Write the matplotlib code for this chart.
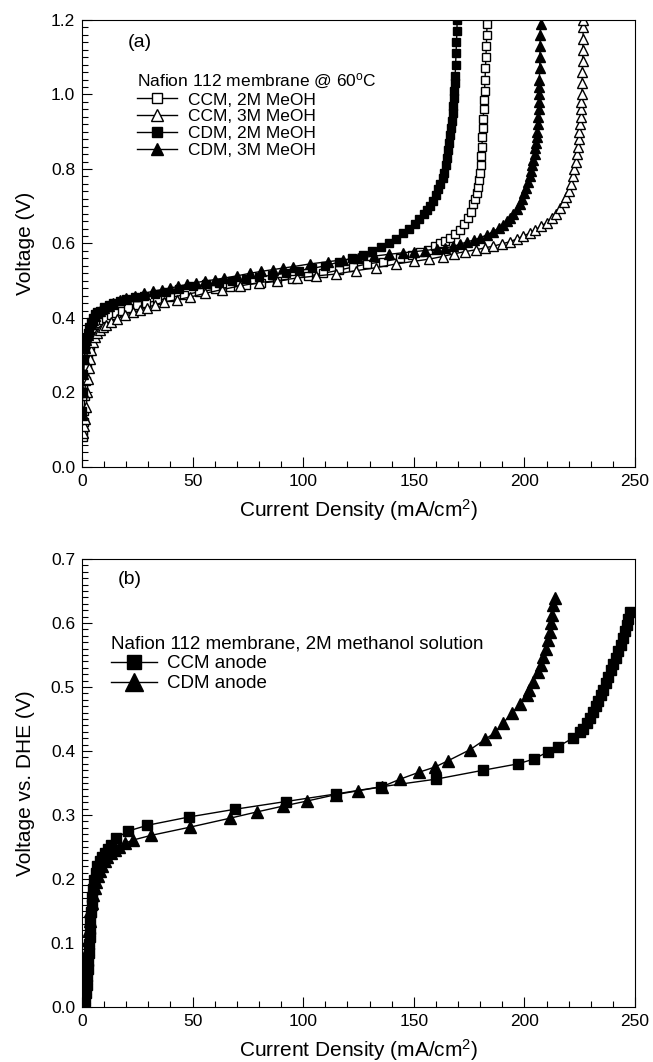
import matplotlib
matplotlib.use("Agg")
import matplotlib.pyplot as plt
from matplotlib.ticker import MultipleLocator

plt.rcParams['font.family'] = ['Liberation Sans', 'DejaVu Sans']
plt.rcParams['mathtext.fontset'] = 'custom'
plt.rcParams['mathtext.rm'] = 'Liberation Sans'
plt.rcParams['mathtext.it'] = 'Liberation Sans:italic'

# ---- panel (a): cell polarization, Nafion 112 @ 60C ----
ccm2_i = [0.3, 0.5, 0.7, 0.9, 1.2, 1.6, 2.1, 2.7, 3.4, 4.2, 5, 6, 7, 8, 9.5, 11, 13, 15.5, 18, 21,
          25, 29, 34, 40, 46, 53, 60, 67, 74, 81, 88, 95, 102, 109, 116, 122.6, 129, 136, 143.8, 149,
          153, 156.6, 159.5, 161.8, 164.2, 166.4, 168.8, 170.9, 172.8, 174.6, 175.9, 176.9, 177.8, 178.5,
          179.2, 179.6, 180, 180.3, 180.6, 180.8, 181, 181.2, 181.4, 181.6, 181.8, 182, 182.2, 182.4,
          182.6, 182.8, 183, 183.1]
ccm2_v = [0.08, 0.10, 0.12, 0.15, 0.19, 0.23, 0.27, 0.30, 0.325, 0.345, 0.36, 0.372, 0.38, 0.387, 0.395,
          0.40, 0.407, 0.413, 0.42, 0.427, 0.434, 0.44, 0.447, 0.455, 0.462, 0.47, 0.477, 0.483, 0.489,
          0.494, 0.498, 0.505, 0.512, 0.52, 0.528, 0.537, 0.545, 0.551, 0.56, 0.569, 0.576, 0.583, 0.592,
          0.60, 0.607, 0.614, 0.625, 0.636, 0.652, 0.668, 0.685, 0.705, 0.72, 0.735, 0.752, 0.77, 0.79,
          0.81, 0.835, 0.86, 0.885, 0.91, 0.935, 0.96, 0.985, 1.01, 1.04, 1.07, 1.10, 1.13, 1.16, 1.19]

ccm3_i = [0.3, 0.8, 1.3, 1.9, 2.3, 2.7, 3.2, 3.7, 4.2, 5, 6, 7, 8, 9.5, 11, 13.3, 16, 19.3, 23, 26,
          29.5, 32.8, 37, 42.8, 48.8, 55.6, 63.2, 71.4, 80, 88, 97, 106, 115, 124, 133, 142, 150, 157,
          163, 168, 173, 178, 182, 186, 190, 193.5, 196.5, 199.5, 202.5, 205, 207.5, 210, 212.5, 214.5,
          216.3, 217.8, 219, 220, 221, 221.8, 222.6, 223.2, 223.7, 224.2, 224.6, 224.9, 225.2, 225.4,
          225.6, 225.8, 226, 226.1, 226.2, 226.3, 226.4, 226.5, 226.6, 226.7]
ccm3_v = [0.09, 0.11, 0.13, 0.16, 0.20, 0.235, 0.265, 0.29, 0.315, 0.335, 0.35, 0.36, 0.368, 0.375,
          0.382, 0.388, 0.398, 0.407, 0.415, 0.421, 0.428, 0.435, 0.443, 0.449, 0.456, 0.466, 0.476,
          0.486, 0.495, 0.500, 0.507, 0.513, 0.518, 0.527, 0.535, 0.545, 0.552, 0.558, 0.565, 0.572,
          0.578, 0.583, 0.588, 0.593, 0.599, 0.605, 0.612, 0.62, 0.628, 0.637, 0.646, 0.656, 0.668,
          0.68, 0.695, 0.71, 0.725, 0.74, 0.76, 0.78, 0.80, 0.82, 0.84, 0.86, 0.88, 0.90, 0.92, 0.94,
          0.96, 0.98, 1.00, 1.03, 1.06, 1.09, 1.12, 1.15, 1.18, 1.20]

cdm2_i = [0, 0.3, 0.6, 1, 1.5, 2, 2.5, 3, 4, 5, 6, 7, 8, 10, 12, 14, 17, 20, 24, 28, 33, 38, 44, 50,
          56, 62, 68, 74, 80, 86, 92, 98, 104, 110, 116, 122, 127, 131, 135, 139, 142, 145, 148, 150.5,
          152.5, 154.5, 156, 157.5, 158.8, 160, 161, 162, 163, 163.8, 164.5, 165.1, 165.6, 166.1, 166.5,
          166.9, 167.2, 167.5, 167.8, 168, 168.3, 168.5, 168.7, 168.9, 169.1, 169.3, 169.5, 169.6]
cdm2_v = [0.15, 0.20, 0.25, 0.29, 0.32, 0.345, 0.36, 0.375, 0.39, 0.40, 0.41, 0.415, 0.42, 0.43,
          0.435, 0.44, 0.445, 0.45, 0.455, 0.46, 0.465, 0.47, 0.478, 0.485, 0.49, 0.495, 0.50, 0.505,
          0.51, 0.515, 0.52, 0.527, 0.533, 0.54, 0.55, 0.56, 0.57, 0.58, 0.59, 0.60, 0.613, 0.627, 0.64,
          0.653, 0.665, 0.678, 0.69, 0.70, 0.715, 0.73, 0.745, 0.76, 0.775, 0.79, 0.81, 0.83, 0.85, 0.87,
          0.89, 0.91, 0.93, 0.95, 0.97, 0.99, 1.01, 1.03, 1.05, 1.08, 1.11, 1.14, 1.17, 1.20]

cdm3_i = [0, 0.3, 0.6, 1, 1.5, 2, 2.5, 3, 4, 5, 6, 7, 8, 10, 12, 14, 17, 20, 24, 28, 32.2, 36, 39.8,
          43.5, 47.3, 51.5, 55.6, 60, 64.2, 70, 76, 81, 86.5, 91, 95.5, 103, 111, 118, 125, 132, 139,
          145, 150, 155, 160.3, 164, 167.8, 171, 173.9, 177, 179.9, 183, 185.9, 188.3, 190.3, 192, 193.6,
          195, 196.5, 197.8, 199, 200, 200.9, 201.7, 202.4, 203, 203.6, 204.1, 204.6, 205, 205.3, 205.6,
          205.8, 206, 206.2, 206.4, 206.5, 206.6, 206.7, 206.8, 206.9, 207, 207.1, 207.2, 207.3]
cdm3_v = [0.14, 0.20, 0.25, 0.29, 0.32, 0.34, 0.355, 0.37, 0.385, 0.395, 0.405, 0.412, 0.418, 0.427,
          0.433, 0.44, 0.447, 0.453, 0.46, 0.466, 0.472, 0.476, 0.48, 0.485, 0.49, 0.495, 0.499, 0.503,
          0.507, 0.513, 0.52, 0.525, 0.53, 0.534, 0.538, 0.545, 0.551, 0.556, 0.561, 0.566, 0.571, 0.575,
          0.578, 0.581, 0.585, 0.588, 0.592, 0.598, 0.604, 0.609, 0.615, 0.623, 0.632, 0.641, 0.65, 0.659,
          0.668, 0.68, 0.693, 0.705, 0.72, 0.735, 0.75, 0.765, 0.78, 0.795, 0.81, 0.825, 0.84, 0.856,
          0.87, 0.885, 0.90, 0.92, 0.94, 0.96, 0.98, 1.00, 1.02, 1.04, 1.07, 1.10, 1.13, 1.16, 1.19]

# ---- panel (b): anode polarization vs DHE ----
ccma_i = [1.5, 1.9, 2.2, 2.4, 2.6, 2.8, 3.0, 3.2, 3.4, 3.6, 3.8, 4.0, 4.3, 4.6, 5.0, 5.5, 6.2, 7.0,
          8.0, 9.0, 10.2, 11.7, 13.3, 15.5, 20.9, 29.6, 48.5, 69.2, 92, 115, 135, 160, 181.4, 197.2,
          204.3, 210.8, 215.3, 221.8, 225.1, 226.5, 228.1, 229.5, 231.1, 232.3, 233.4, 234.5, 235.6,
          236.8, 237.9, 239, 240.2, 241.3, 242.4, 243.5, 244.7, 245.5, 246.2, 247, 247.7]
ccma_v = [0.01, 0.022, 0.035, 0.048, 0.06, 0.072, 0.085, 0.098, 0.11, 0.122, 0.135, 0.148, 0.16,
          0.172, 0.185, 0.198, 0.21, 0.22, 0.228, 0.235, 0.24, 0.247, 0.253, 0.264, 0.275, 0.284, 0.297,
          0.309, 0.321, 0.333, 0.344, 0.356, 0.37, 0.38, 0.3875, 0.399, 0.407, 0.42, 0.43, 0.435, 0.443,
          0.452, 0.461, 0.47, 0.478, 0.487, 0.496, 0.506, 0.516, 0.526, 0.536, 0.546, 0.556, 0.566,
          0.576, 0.587, 0.597, 0.607, 0.618]

cdma_i = [1.0, 1.3, 1.6, 1.9, 2.2, 2.5, 2.8, 3.1, 3.4, 3.8, 4.3, 5, 5.8, 6.5, 7.2, 8, 9, 10.2, 11.4,
          13, 14.8, 16.7, 19.5, 23.2, 31, 48.8, 66.9, 79.3, 91, 101.9, 115, 125, 135.5, 143.8, 152.5,
          159.6, 165.6, 175.4, 182.2, 186.7, 190.5, 194.2, 198, 201, 202.2, 204, 206.3, 207.3, 208.5,
          209.8, 210.8, 211.6, 212, 212.3, 213, 213.8]
cdma_v = [0.015, 0.03, 0.045, 0.06, 0.075, 0.09, 0.105, 0.12, 0.135, 0.15, 0.163, 0.175, 0.186, 0.196,
          0.205, 0.213, 0.221, 0.228, 0.235, 0.24, 0.245, 0.25, 0.256, 0.261, 0.268, 0.281, 0.295, 0.305,
          0.314, 0.322, 0.332, 0.338, 0.344, 0.356, 0.367, 0.375, 0.385, 0.402, 0.418, 0.429, 0.444,
          0.459, 0.473, 0.4875, 0.495, 0.508, 0.524, 0.534, 0.547, 0.56, 0.573, 0.586, 0.6, 0.6125,
          0.628, 0.639]

TICK_FS = 12.5
LABEL_FS = 15

fig = plt.figure(figsize=(6.53, 10.62), dpi=100)
ax1 = fig.add_axes([0.1256, 0.5603, 0.8468, 0.4209])
ax2 = fig.add_axes([0.1256, 0.0518, 0.8468, 0.4218])


def style_axis(ax, ymax, ymaj, ymin):
    ax.set_xlim(0, 250)
    ax.set_ylim(0, ymax)
    ax.xaxis.set_major_locator(MultipleLocator(50))
    ax.xaxis.set_minor_locator(MultipleLocator(10))
    ax.yaxis.set_major_locator(MultipleLocator(ymaj))
    ax.yaxis.set_minor_locator(MultipleLocator(ymin))
    ax.tick_params(which='both', direction='in', top=False, right=False,
                   labelsize=TICK_FS, width=0.8, pad=5)
    ax.tick_params(which='major', length=7)
    ax.tick_params(which='minor', length=4)
    for sp in ax.spines.values():
        sp.set_linewidth(0.8)
    ax.set_xlabel('Current Density (mA/cm$^2$)', fontsize=LABEL_FS)
    ax.xaxis.set_label_coords(0.5, -0.068)


# panel (a)
kw = dict(color='black', lw=1.0)
ax1.plot(ccm2_i, ccm2_v, marker='s', ms=6, mfc='white', mec='black', mew=1.0,
         label='CCM, 2M MeOH', **kw)
ax1.plot(ccm3_i, ccm3_v, marker='^', ms=7.5, mfc='white', mec='black', mew=1.0,
         label='CCM, 3M MeOH', **kw)
ax1.plot(cdm2_i, cdm2_v, marker='s', ms=6, mfc='black', mec='black',
         label='CDM, 2M MeOH', **kw)
ax1.plot(cdm3_i, cdm3_v, marker='^', ms=7.5, mfc='black', mec='black',
         label='CDM, 3M MeOH', **kw)
style_axis(ax1, 1.2, 0.2, 0.02)
ax1.set_ylabel('Voltage (V)', fontsize=LABEL_FS)
ax1.yaxis.set_label_coords(-0.085, 0.5)
ax1.text(0.083, 0.95, '(a)', transform=ax1.transAxes, fontsize=14, va='center', ha='left')
leg1 = ax1.legend(loc='upper left', bbox_to_anchor=(0.099, 0.885), frameon=False,
                  title='Nafion 112 membrane @ 60$^\\mathrm{o}$C', fontsize=12.5,
                  title_fontsize=12.5, borderpad=0, borderaxespad=0, labelspacing=0.1,
                  handlelength=2.3, handletextpad=0.65, markerscale=1.2)
leg1._legend_box.align = 'left'

# panel (b)
ax2.plot(ccma_i, ccma_v, marker='s', ms=6.5, color='black', lw=1.0, label='CCM anode')
ax2.plot(cdma_i, cdma_v, marker='^', ms=8, color='black', lw=1.0, label='CDM anode')
style_axis(ax2, 0.7, 0.1, 0.01)
ax2.set_ylabel('Voltage vs. DHE (V)', fontsize=LABEL_FS)
ax2.yaxis.set_label_coords(-0.085, 0.5)
ax2.text(0.065, 0.955, '(b)', transform=ax2.transAxes, fontsize=14, va='center', ha='left')
leg2 = ax2.legend(loc='upper left', bbox_to_anchor=(0.052, 0.83), frameon=False,
                  title='Nafion 112 membrane, 2M methanol solution', fontsize=13.5,
                  title_fontsize=13.5, borderpad=0, borderaxespad=0, labelspacing=0.15,
                  handlelength=2.45, handletextpad=0.55, markerscale=1.6)
leg2._legend_box.align = 'left'

fig.savefig('out.png', dpi=100)
